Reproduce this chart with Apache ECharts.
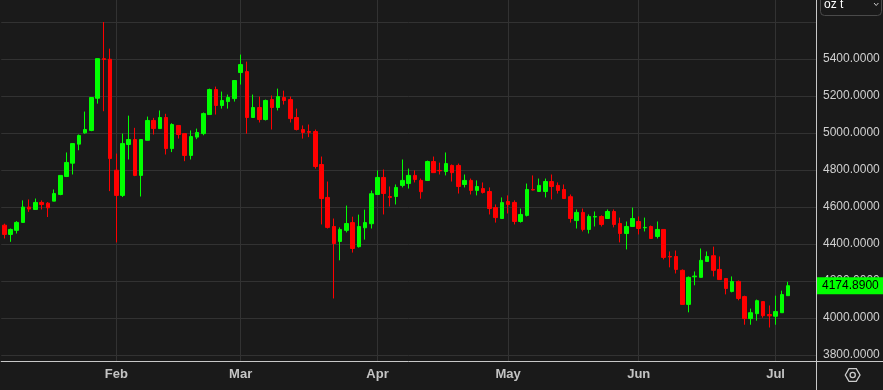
<!DOCTYPE html>
<html>
<head>
<meta charset="utf-8">
<script src="https://cdn.jsdelivr.net/npm/echarts@6/dist/echarts.min.js"></script>
<style>
html,body{margin:0;padding:0;background:#1a1a1a;}
#chart{width:883px;height:390px;}
</style>
</head>
<body>
<div id="chart"></div>
<script>
// Trading days (last 4 entries are empty slots to the right of the last candle)
const dates = (
 "2026-01-07 2026-01-08 2026-01-09 2026-01-12 2026-01-13 2026-01-14 2026-01-15 2026-01-16 " +
 "2026-01-19 2026-01-20 2026-01-21 2026-01-22 2026-01-23 2026-01-26 2026-01-27 2026-01-28 2026-01-29 2026-01-30 " +
 "2026-02-02 2026-02-03 2026-02-04 2026-02-05 2026-02-06 2026-02-09 2026-02-10 2026-02-11 2026-02-12 2026-02-13 " +
 "2026-02-16 2026-02-17 2026-02-18 2026-02-19 2026-02-20 2026-02-23 2026-02-24 2026-02-25 2026-02-26 2026-02-27 " +
 "2026-03-02 2026-03-03 2026-03-04 2026-03-05 2026-03-06 2026-03-09 2026-03-10 2026-03-11 2026-03-12 2026-03-13 " +
 "2026-03-16 2026-03-17 2026-03-18 2026-03-19 2026-03-20 2026-03-23 2026-03-24 2026-03-25 2026-03-26 2026-03-27 " +
 "2026-03-30 2026-03-31 " +
 "2026-04-01 2026-04-02 2026-04-06 2026-04-07 2026-04-08 2026-04-09 2026-04-10 2026-04-13 2026-04-14 2026-04-15 " +
 "2026-04-16 2026-04-17 2026-04-20 2026-04-21 2026-04-22 2026-04-23 2026-04-24 2026-04-27 2026-04-28 2026-04-29 2026-04-30 " +
 "2026-05-01 2026-05-04 2026-05-05 2026-05-06 2026-05-07 2026-05-08 2026-05-11 2026-05-12 2026-05-13 2026-05-14 " +
 "2026-05-15 2026-05-18 2026-05-19 2026-05-20 2026-05-21 2026-05-22 2026-05-25 2026-05-26 2026-05-27 2026-05-28 2026-05-29 " +
 "2026-06-01 2026-06-02 2026-06-03 2026-06-04 2026-06-05 2026-06-08 2026-06-09 2026-06-10 2026-06-11 2026-06-12 " +
 "2026-06-15 2026-06-16 2026-06-17 2026-06-18 2026-06-19 2026-06-22 2026-06-23 2026-06-24 2026-06-25 2026-06-26 " +
 "2026-06-29 2026-06-30 " +
 "2026-07-01 2026-07-02 2026-07-03 2026-07-06 2026-07-07 2026-07-08 2026-07-09"
).split(" ");

const open = [4502,4452,4474,4517,4600,4587,4625,4621,4632,4668,4765,4837,4940,5001,5014,5188,5402,5399,
 4799,4663,4938,4965,4771,4961,5068,5024,5084,4916,5041,4997,4879,4978,4997,5100,5235,5149,5170,5186,
 5327,5332,5084,5138,5073,5181,5138,5192,5181,5084,5019,5008,5008,4830,4652,4495,4414,4474,4516,4386,4488,4510,
 4668,4760,4657,4657,4717,4727,4771,4744,4744,4846,4798,4792,4825,4825,4722,4744,4690,4700,4684,4597,4538,
 4630,4625,4522,4555,4695,4684,4684,4738,4717,4695,4656,4527,4571,4479,4546,4549,4538,4576,4511,4457,4495,
 4522,4488,4495,4441,4479,4333,4333,4258,4074,4223,4220,4306,4337,4263,4214,4144,4198,4116,3997,4024,4089,4019,
 4010,4029,4121];
const close = [4452,4479,4517,4600,4589,4625,4614,4596,4673,4771,4841,4943,4987,5019,5192,5402,5398,4862,
 4663,4943,4965,4771,4965,5068,5024,5084,4916,5046,4992,4879,4981,5003,5105,5235,5149,5176,5192,5284,
 5370,5084,5138,5073,5176,5138,5197,5176,5078,5019,5003,5004,4819,4646,4490,4403,4479,4511,4376,4495,4516,4672,
 4760,4673,4652,4706,4744,4771,4749,4683,4846,4786,4796,4835,4786,4711,4744,4690,4711,4679,4592,4543,4624,
 4614,4522,4560,4695,4692,4717,4738,4711,4690,4646,4538,4571,4479,4549,4549,4506,4576,4506,4457,4495,4538,
 4484,4490,4430,4479,4328,4330,4263,4074,4220,4227,4312,4333,4258,4208,4160,4198,4106,3997,4029,4094,4013,4012,
 4035,4127,4174.89];
const low = [4430,4412,4457,4517,4574,4587,4587,4546,4632,4664,4762,4776,4907,4996,5010,5159,5118,4686,
 4409,4654,4857,4767,4657,4961,4992,5024,4884,4897,4970,4848,4857,4967,4988,5100,5100,5132,5132,5170,
 5262,4997,5084,5057,5068,5019,5122,5154,5057,5014,4970,4978,4808,4506,4484,4106,4312,4463,4354,4381,4424,4484,
 4668,4560,4603,4614,4706,4700,4733,4645,4744,4786,4776,4771,4738,4673,4706,4668,4663,4673,4560,4516,4538,
 4565,4506,4516,4549,4690,4684,4652,4641,4673,4646,4516,4484,4468,4457,4495,4495,4538,4490,4409,4371,4495,
 4452,4468,4430,4430,4317,4274,4241,4074,4031,4177,4220,4306,4225,4208,4128,4139,4096,3964,3964,3986,4002,3949,
 3964,4029,4121];
const high = [4510,4484,4524,4636,4641,4646,4636,4627,4695,4771,4895,4943,4992,5116,5192,5402,5600,5456,
 4889,4997,5094,5028,4965,5089,5082,5122,5104,5053,5041,4997,5014,5024,5111,5240,5251,5224,5208,5284,
 5424,5386,5208,5197,5181,5203,5240,5229,5197,5132,5041,5046,5019,4873,4738,4538,4490,4608,4548,4559,4586,4689,
 4798,4803,4711,4722,4857,4808,4798,4754,4851,4873,4840,4895,4830,4835,4776,4754,4744,4733,4706,4614,4652,
 4663,4636,4592,4727,4771,4754,4754,4776,4733,4722,4668,4587,4592,4560,4576,4555,4587,4587,4543,4522,4597,
 4549,4543,4500,4522,4479,4360,4365,4263,4225,4252,4376,4360,4386,4333,4214,4225,4203,4121,4051,4100,4089,4068,
 4121,4148,4196];

const monthTicks = ["2026-02-02","2026-03-02","2026-04-01","2026-05-01","2026-06-01","2026-07-01"];
const monthLabels = ["Feb","Mar","Apr","May","Jun","Jul"];
const yTicks = [3800,4000,4200,4400,4600,4800,5000,5200,5400,5600];
const lastPrice = 4174.89;
const unitLabel = "oz t";

const UP = "#00ff00", DOWN = "#ff0000", GRID = "#323232", AXIS = "#c8c8c8";
const FONT = "'Liberation Sans', Arial, sans-serif";

const candles = open.map((o, i) => [o, close[i], low[i], high[i]]);

const markData = [];
yTicks.forEach(v => markData.push({
  yAxis: v,
  lineStyle: {color: GRID, width: 1, type: "solid"},
  label: {show: v !== 5600, position: "end", distance: 7, color: "#d0d0d0",
          fontSize: 12, fontFamily: FONT, formatter: p => Number(p.value).toFixed(4)}
}));
monthTicks.forEach(d => markData.push({
  xAxis: d,
  lineStyle: {color: GRID, width: 1, type: "solid"},
  label: {show: false}
}));
markData.push({
  yAxis: lastPrice,
  lineStyle: {color: "rgba(0,0,0,0)", width: 1},
  label: {show: true, position: "end", distance: 1, color: "#000000", backgroundColor: UP,
          padding: [3, 5, 2, 5], fontSize: 12, fontFamily: FONT,
          formatter: p => Number(p.value).toFixed(4)}
});

const chart = echarts.init(document.getElementById("chart"), null, {renderer: "canvas"});
chart.setOption({
  animation: false,
  backgroundColor: "#1a1a1a",
  grid: {left: 1.2, right: 67, top: 0, bottom: 29, containLabel: false},
  xAxis: {
    type: "category",
    data: dates,
    boundaryGap: true,
    axisLine: {show: true, lineStyle: {color: AXIS, width: 1}},
    axisTick: {show: false},
    splitLine: {show: false},
    axisLabel: {
      interval: (i, v) => monthTicks.indexOf(v) >= 0,
      formatter: v => { const k = monthTicks.indexOf(v); return k >= 0 ? monthLabels[k] : ""; },
      color: "#c4c4c4", fontWeight: "bold", fontSize: 13, fontFamily: FONT, margin: 7
    }
  },
  yAxis: {
    type: "value",
    position: "right",
    min: 3768,
    max: 5719,
    scale: true,
    axisLine: {show: true, lineStyle: {color: AXIS, width: 1}},
    axisTick: {show: false},
    axisLabel: {show: false},
    splitLine: {show: false}
  },
  series: [{
    name: "XAU",
    type: "candlestick",
    data: candles,
    barWidth: 4,
    clip: false,
    z: 3,
    itemStyle: {color: UP, color0: DOWN, borderColor: UP, borderColor0: DOWN, borderWidth: 1},
    markLine: {
      silent: true,
      z: 1,
      symbol: ["none", "none"],
      animation: false,
      data: markData
    }
  }],
  graphic: [
    {type: "line", z: 10, shape: {x1: 816, y1: 361.5, x2: 883, y2: 361.5}, style: {stroke: AXIS, lineWidth: 1}},
    {type: "line", z: 10, shape: {x1: 816.5, y1: 355, x2: 816.5, y2: 390}, style: {stroke: AXIS, lineWidth: 1}},
    {type: "rect", z: 10, shape: {x: 820.5, y: -6.5, width: 61, height: 22, r: 4},
      style: {fill: "#1a1a1a", stroke: "#4a4a4a", lineWidth: 1}},
    {type: "text", z: 11,
      style: {x: 824, y: 4.3, text: unitLabel, fill: "#ffffff", font: "12px " + FONT, verticalAlign: "middle"}},
    {type: "polyline", z: 11, shape: {points: [[874, 3], [876.2, 5.5], [878.4, 3]]},
      style: {stroke: "#cccccc", lineWidth: 1, fill: null}},
    {type: "polygon", z: 11,
      shape: {points: [[845.3, 375], [849, 368.7], [856.3, 368.7], [860, 375], [856.3, 381.3], [849, 381.3]]},
      style: {stroke: "#cccccc", lineWidth: 1.3, fill: null}},
    {type: "circle", z: 11, shape: {cx: 852.7, cy: 375, r: 2.6},
      style: {stroke: "#cccccc", lineWidth: 1.3, fill: null}}
  ]
});
</script>
</body>
</html>
